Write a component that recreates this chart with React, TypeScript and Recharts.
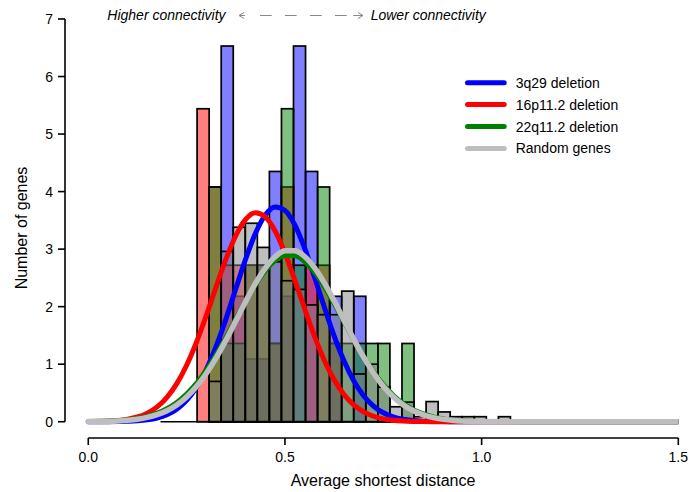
import React from 'react';
import { ComposedChart, Bar, Line, XAxis, YAxis, ReferenceLine } from 'recharts';

// ---------- data ----------
const binCenters = [0.2909, 0.3215, 0.3522, 0.3828, 0.4135, 0.4441, 0.4747, 0.5054, 0.536, 0.5667, 0.5973, 0.6279, 0.6586, 0.6892, 0.7199, 0.7505, 0.7811, 0.8118, 0.8424, 0.8731, 0.9037, 0.9343, 0.965, 0.9956, 1.0263, 1.0569];
const blueBars = [0, 0, 6.53, 2.18, 1.09, 1.09, 4.35, 2.18, 6.53, 4.35, 0, 2.18, 0, 2.18, 0, 0, 0, 0, 0, 0, 0, 0, 0, 0, 0, 0];
const redBars = [5.44, 4.08, 2.72, 2.72, 2.72, 2.72, 1.36, 4.08, 0, 2.72, 2.72, 1.36, 0, 0, 0, 0, 0, 0, 0, 0, 0, 0, 0, 0, 0, 0];
const greenBars = [0, 4.08, 1.36, 1.36, 2.72, 2.72, 1.36, 5.44, 2.72, 0, 4.08, 1.36, 1.36, 1.36, 1.36, 1.36, 0, 1.36, 0, 0, 0, 0, 0, 0, 0, 0];
const grayBars = [0, 0.7, 2.96, 3.38, 3.45, 3.03, 2.78, 2.45, 2.3, 2.03, 1.86, 1.86, 2.27, 0.83, 1.0, 0.6, 0.26, 0.34, 0.087, 0.35, 0.17, 0.087, 0.087, 0.087, 0, 0.087];

const curveX = [0, 0.025, 0.05, 0.075, 0.1, 0.125, 0.15, 0.175, 0.2, 0.225, 0.25, 0.275, 0.3, 0.325, 0.35, 0.375, 0.4, 0.425, 0.45, 0.475, 0.5, 0.525, 0.55, 0.575, 0.6, 0.625, 0.65, 0.675, 0.7, 0.725, 0.75, 0.775, 0.8, 0.825, 0.85, 0.875, 0.9, 0.925, 0.95, 0.975, 1.0, 1.1, 1.2, 1.3, 1.4, 1.5];
const blueCurve = [0, 0, 0.001, 0.003, 0.007, 0.015, 0.032, 0.064, 0.122, 0.219, 0.371, 0.596, 0.908, 1.309, 1.786, 2.31, 2.826, 3.274, 3.593, 3.733, 3.672, 3.421, 3.017, 2.519, 1.993, 1.492, 1.058, 0.71, 0.452, 0.272, 0.155, 0.084, 0.043, 0.021, 0.009, 0.004, 0.002, 0.001, 0, 0, 0, 0, 0, 0, 0, 0];
const redCurve = [0.002, 0.004, 0.01, 0.021, 0.043, 0.082, 0.149, 0.258, 0.424, 0.662, 0.981, 1.381, 1.846, 2.344, 2.826, 3.235, 3.517, 3.632, 3.561, 3.316, 2.933, 2.462, 1.964, 1.488, 1.07, 0.731, 0.474, 0.292, 0.171, 0.095, 0.05, 0.025, 0.012, 0.005, 0.002, 0.001, 0, 0, 0, 0, 0, 0, 0, 0, 0, 0];
const greenCurve = [0.003, 0.006, 0.011, 0.019, 0.034, 0.057, 0.093, 0.148, 0.226, 0.335, 0.481, 0.667, 0.896, 1.164, 1.463, 1.779, 2.094, 2.385, 2.627, 2.801, 2.889, 2.883, 2.784, 2.601, 2.352, 2.057, 1.741, 1.426, 1.13, 0.866, 0.643, 0.461, 0.32, 0.215, 0.14, 0.088, 0.054, 0.032, 0.018, 0.01, 0.005, 0.001, 0, 0, 0, 0];
const grayCurve = [0.002, 0.004, 0.007, 0.014, 0.025, 0.044, 0.075, 0.122, 0.192, 0.292, 0.43, 0.611, 0.838, 1.109, 1.418, 1.751, 2.087, 2.403, 2.671, 2.867, 2.971, 2.973, 2.872, 2.68, 2.415, 2.101, 1.764, 1.431, 1.121, 0.847, 0.618, 0.436, 0.297, 0.195, 0.124, 0.076, 0.045, 0.026, 0.014, 0.008, 0.004, 0, 0, 0, 0, 0];

const seriesNames = ['3q29 deletion', '16p11.2 deletion', '22q11.2 deletion', 'Random genes'];
const xTicks = [0, 0.5, 1, 1.5];
const yTicks = [0, 1, 2, 3, 4, 5, 6, 7];
const BIN_WIDTH = 0.03064;
const BIN_START = 0.1837;
const BIN_END = 1.0722;

// ---------- styling / layout ----------
const W = 692;
const H = 492;
const MARGIN = { top: 19, right: 13.7, left: 0, bottom: 0 };
const Y_AXIS_W = 65;
const X_AXIS_H = 54;
const X_DOMAIN: [number, number] = [-0.0592, 1.5];
const Y_DOMAIN: [number, number] = [-0.283, 7];
const PLOT_W = W - MARGIN.right - MARGIN.left - Y_AXIS_W;
const BAR_PX = (BIN_WIDTH * PLOT_W) / (X_DOMAIN[1] - X_DOMAIN[0]);
const lineColors = ['#0000FF', '#FF0000', '#008000', '#BEBEBE'];
const barColors = ['#0000FF', '#FF0000', '#008000', '#7F7F7F'];
const lineWidths = [5, 5, 5, 5.5];
const FONT = '"Liberation Sans", Arial, Helvetica, sans-serif';

const barRows = binCenters.map((c, i) => ({
  center: c,
  s0: blueBars[i],
  s1: redBars[i],
  s2: greenBars[i],
  s3: grayBars[i],
}));
const curveSeries = [blueCurve, redCurve, greenCurve, grayCurve].map((arr) =>
  curveX.map((x, i) => ({ x, y: arr[i] }))
);

const makeShape = (color: string) => (props: any) => {
  const { x, y, width, height } = props;
  if (!height || height <= 0 || !isFinite(x)) return <g />;
  const cx = x + width / 2;
  return (
    <rect
      x={cx - BAR_PX / 2}
      y={y}
      width={BAR_PX}
      height={height}
      fill={color}
      fillOpacity={0.5}
      stroke="#000"
      strokeWidth={1.7}
    />
  );
};

const legendY0 = 82.7;
const legendStep = 21.9;

export default function App() {
  return (
    <div style={{ position: 'absolute', left: 0, top: 0, width: W, height: H, fontFamily: FONT, background: '#fff' }}>
      <ComposedChart width={W} height={H} data={barRows} margin={MARGIN}>
        <XAxis
          xAxisId="main"
          dataKey="x"
          type="number"
          domain={X_DOMAIN}
          allowDataOverflow
          ticks={xTicks}
          interval={0}
          tickFormatter={(v: number) => v.toFixed(1)}
          axisLine={false}
          tickLine={{ stroke: '#000', strokeWidth: 1.6 }}
          tickSize={7}
          tickMargin={7}
          height={X_AXIS_H}
          tick={{ fill: '#000', fontSize: 14 }}
        />
        {[0, 1, 2, 3].map((i) => (
          <XAxis
            key={'bx' + i}
            xAxisId={'b' + i}
            dataKey="center"
            type="number"
            domain={X_DOMAIN}
            allowDataOverflow
            orientation="top"
            height={0}
            hide
          />
        ))}
        <YAxis
          type="number"
          domain={Y_DOMAIN}
          allowDataOverflow
          ticks={yTicks}
          interval={0}
          axisLine={false}
          tickLine={{ stroke: '#000', strokeWidth: 1.6 }}
          tickSize={7}
          tickMargin={5}
          width={Y_AXIS_W}
          tick={{ fill: '#000', fontSize: 14 }}
        />
        <ReferenceLine
          xAxisId="main"
          segment={[{ x: BIN_START, y: 0 }, { x: BIN_END, y: 0 }]}
          stroke="#000"
          strokeWidth={1.6}
          ifOverflow="visible"
        />
        {[0, 1, 2, 3].map((i) => (
          <Bar
            key={'bar' + i}
            xAxisId={'b' + i}
            dataKey={'s' + i}
            barSize={BAR_PX}
            fill={barColors[i]}
            shape={makeShape(barColors[i])}
            isAnimationActive={false}
          />
        ))}
        {[0, 1, 2, 3].map((i) => (
          <Line
            key={'line' + i}
            xAxisId="main"
            data={curveSeries[i]}
            dataKey="y"
            type="monotone"
            stroke={lineColors[i]}
            strokeWidth={lineWidths[i]}
            strokeLinecap="round"
            strokeLinejoin="round"
            dot={false}
            activeDot={false}
            isAnimationActive={false}
          />
        ))}
        <ReferenceLine
          xAxisId="main"
          segment={[{ x: 0, y: Y_DOMAIN[0] }, { x: 1.5, y: Y_DOMAIN[0] }]}
          stroke="#000"
          strokeWidth={1.6}
          ifOverflow="visible"
        />
        <ReferenceLine
          xAxisId="main"
          segment={[{ x: X_DOMAIN[0], y: 0 }, { x: X_DOMAIN[0], y: 7 }]}
          stroke="#000"
          strokeWidth={1.6}
          ifOverflow="visible"
        />
      </ComposedChart>
      <svg
        width={W}
        height={H}
        style={{ position: 'absolute', left: 0, top: 0, pointerEvents: 'none', fontFamily: FONT }}
      >
        <text x={383} y={486} textAnchor="middle" fontSize={16} fill="#000">
          Average shortest distance
        </text>
        <text x={27} y={228} textAnchor="middle" fontSize={16} fill="#000" transform="rotate(-90 27 228)">
          Number of genes
        </text>
        <text x={107.3} y={20} fontSize={14} fontStyle="italic" fill="#000">
          Higher connectivity
        </text>
        <text x={370.7} y={20} fontSize={14} fontStyle="italic" fill="#000">
          Lower connectivity
        </text>
        <line
          x1={239}
          y1={15.5}
          x2={363}
          y2={15.5}
          stroke="#888"
          strokeWidth={1}
          strokeDasharray="6 15 11.7 13.3 11.7 13.3 11.7 13.3 11.7 6.6 10"
        />
        <polyline points="244,12.5 239,15.5 244,18.5" fill="none" stroke="#888" strokeWidth={1} />
        <polyline points="358,12.5 363,15.5 358,18.5" fill="none" stroke="#888" strokeWidth={1} />
        {seriesNames.map((name, i) => {
          const y = legendY0 + i * legendStep;
          return (
            <g key={name}>
              <line x1={467.5} y1={y} x2={504.2} y2={y} stroke={lineColors[i]} strokeWidth={5} strokeLinecap="round" />
              <text x={515.7} y={y + 5} fontSize={14} fill="#000">
                {name}
              </text>
            </g>
          );
        })}
      </svg>
    </div>
  );
}
